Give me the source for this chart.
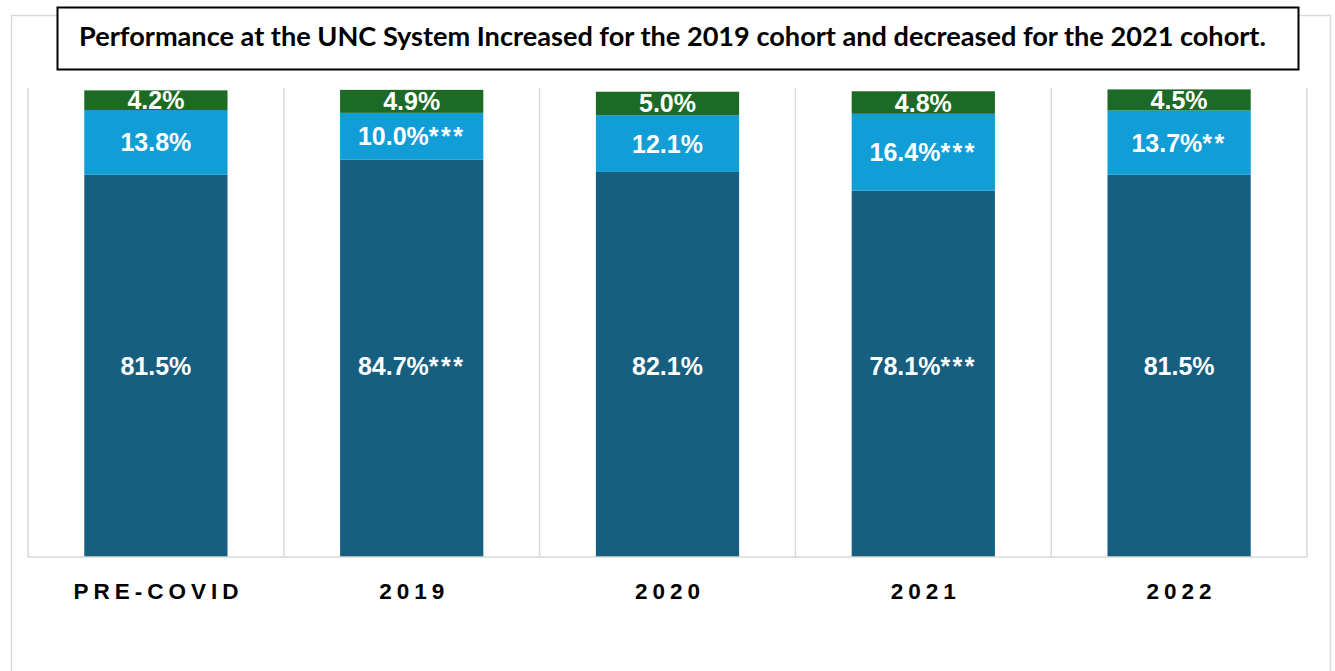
<!DOCTYPE html>
<html>
<head>
<meta charset="utf-8">
<script src="https://cdn.jsdelivr.net/npm/d3@7"></script>
<style>
  html, body { margin: 0; padding: 0; background: #fff; }
  svg { display: block; }
</style>
</head>
<body>
<div id="chart"></div>
<script>
// data
const categories = ["PRE-COVID", "2019", "2020", "2021", "2022"];
const seriesKeys = ["bottom", "middle", "top"];
const bottomValues = [81.5, 84.7, 82.1, 78.1, 81.5];
const middleValues = [13.8, 10.0, 12.1, 16.4, 13.7];
const topValues = [4.2, 4.9, 5.0, 4.8, 4.5];
const bottomMarks = ["", "***", "", "***", ""];
const middleMarks = ["", "***", "", "***", "**"];
const topMarks = ["", "", "", "", ""];
const titleText = "Performance at the UNC System Increased for the 2019 cohort and decreased for the 2021 cohort.";

const colors = { bottom: "#175f80", middle: "#119ed6", top: "#1c6a25" };

const config = {
  width: 1335,
  height: 671,
  plot: { left: 28, right: 1307, top: 88, bottom: 557 },
  labelSize: 25,
};

// build table for the stack
const table = categories.map((c, i) => ({
  category: c,
  bottom: bottomValues[i],
  middle: middleValues[i],
  top: topValues[i],
  marks: { bottom: bottomMarks[i], middle: middleMarks[i], top: topMarks[i] },
}));

const svg = d3
  .select("#chart")
  .append("svg")
  .attr("width", config.width)
  .attr("height", config.height);

// outer chart frame
svg
  .append("rect")
  .attr("x", 11.5)
  .attr("y", 15.5)
  .attr("width", 1319)
  .attr("height", 700)
  .attr("fill", "#fff")
  .attr("stroke", "#d9d9d9")
  .attr("stroke-width", 1.5);

const x = d3
  .scaleBand()
  .domain(categories)
  .range([config.plot.left, config.plot.right])
  .paddingInner(0.44)
  .paddingOuter(0.22);

const y = d3
  .scaleLinear()
  .domain([0, 100])
  .range([config.plot.bottom, config.plot.top]);

// vertical separators between categories
const seps = d3.range(categories.length + 1).map(
  (i) => config.plot.left + i * (config.plot.right - config.plot.left) / categories.length
);
svg
  .append("g")
  .selectAll("line")
  .data(seps)
  .join("line")
  .attr("x1", (d) => d)
  .attr("x2", (d) => d)
  .attr("y1", config.plot.top)
  .attr("y2", config.plot.bottom)
  .attr("stroke", "#d9d9d9")
  .attr("stroke-width", 1.5);

// stacked bars
const stack = d3.stack().keys(seriesKeys);
const layers = stack(table);

const layerG = svg
  .append("g")
  .selectAll("g")
  .data(layers)
  .join("g")
  .attr("fill", (d) => colors[d.key]);

layerG
  .selectAll("rect")
  .data((d) => d)
  .join("rect")
  .attr("x", (d) => x(d.data.category))
  .attr("width", x.bandwidth())
  .attr("y", (d) => y(d[1]))
  .attr("height", (d) => y(d[0]) - y(d[1]));

// segment labels (the big bottom labels sit on one common line in the original)
const midY = (d) => (y(d[0]) + y(d[1])) / 2;
const bottomLabelY = d3.mean(layers[0], midY);

layers.forEach((layer, li) => {
  const t = svg
    .append("g")
    .selectAll("text")
    .data(layer)
    .join("text")
    .attr("x", (d) => x(d.data.category) + x.bandwidth() / 2)
    .attr("y", (d) => (li === 0 ? bottomLabelY : midY(d)))
    .attr("dy", "0.36em")
    .attr("text-anchor", "middle")
    .attr("fill", "#fff")
    .attr("font-family", "'Liberation Sans', Arial, sans-serif")
    .attr("font-weight", 700)
    .attr("font-size", config.labelSize + "px");
  t.append("tspan").text((d) => d.data[layer.key].toFixed(1) + "%");
  t.append("tspan")
    .attr("letter-spacing", "2.5px")
    .text((d) => d.data.marks[layer.key]);
});

// bottom axis line
svg
  .append("line")
  .attr("x1", config.plot.left)
  .attr("x2", config.plot.right)
  .attr("y1", config.plot.bottom)
  .attr("y2", config.plot.bottom)
  .attr("stroke", "#d9d9d9")
  .attr("stroke-width", 1.5);

// category labels
const ls = 5;
svg
  .append("g")
  .selectAll("text")
  .data(categories)
  .join("text")
  .attr("x", (d) => x(d) + x.bandwidth() / 2 + ls / 2)
  .attr("y", 599)
  .attr("text-anchor", "middle")
  .attr("fill", "#000")
  .attr("font-family", "'Liberation Sans', Arial, sans-serif")
  .attr("font-weight", 700)
  .attr("font-size", "22.5px")
  .attr("letter-spacing", ls + "px")
  .text((d) => d);

// title box
svg
  .append("rect")
  .attr("x", 57.5)
  .attr("y", 7.5)
  .attr("width", 1241)
  .attr("height", 62)
  .attr("fill", "#fff")
  .attr("stroke", "#000")
  .attr("stroke-width", 2);

const title = svg
  .append("text")
  .attr("x", 672.5)
  .attr("y", 46)
  .attr("text-anchor", "middle")
  .attr("fill", "#000")
  .attr("font-family", "Lato, 'Open Sans', sans-serif")
  .attr("font-weight", 700)
  .attr("font-size", "24px")
  .text(titleText);

// fit title width to the reference (~1187px)
const tw = title.node().getComputedTextLength();
title.attr("font-size", (24 * 1187 / tw).toFixed(2) + "px");
</script>
</body>
</html>
